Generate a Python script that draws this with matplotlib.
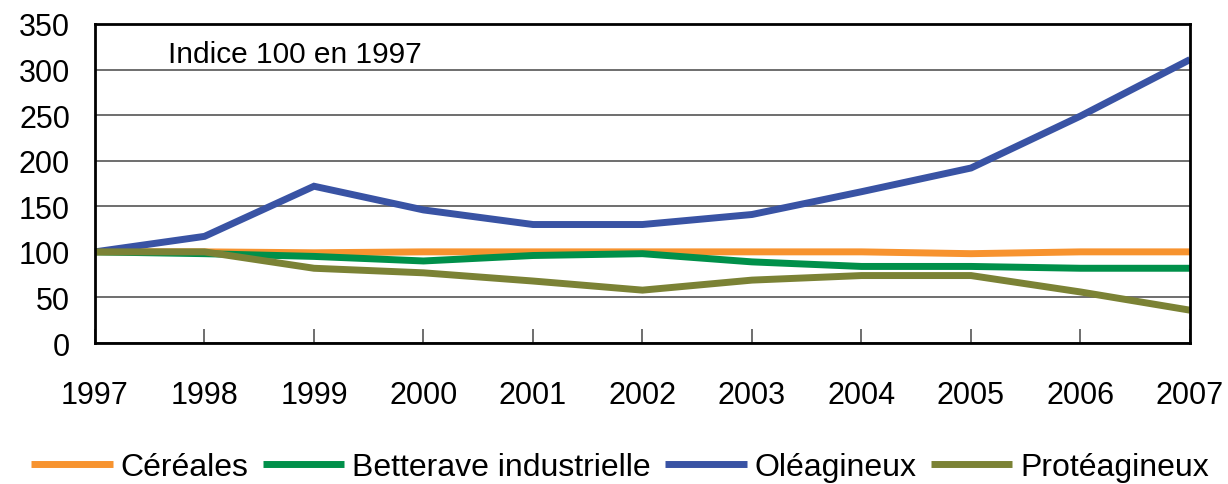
import matplotlib
matplotlib.use("Agg")
import matplotlib.pyplot as plt
from matplotlib import font_manager

years = [1997, 1998, 1999, 2000, 2001, 2002, 2003, 2004, 2005, 2006, 2007]
cereales = [100, 100, 99, 100, 100, 100, 100, 100, 98, 100, 100]
betterave = [100, 98, 95, 90, 96, 98, 89, 84, 84, 82, 82]
oleagineux = [100, 117, 172, 146, 130, 130, 141, 166, 192, 249, 311]
proteagineux = [100, 100, 82, 77, 68, 58, 69, 74, 74, 56, 36]

series_names = ["Céréales", "Betterave industrielle", "Oléagineux", "Protéagineux"]
series_colors = ["#F7932F", "#00904A", "#3953A4", "#7B8235"]
yticks = [0, 50, 100, 150, 200, 250, 300, 350]
annotation = "Indice 100 en 1997"

avail = {f.name for f in font_manager.fontManager.ttflist}
main_font = "Liberation Sans" if "Liberation Sans" in avail else "DejaVu Sans"
plt.rcParams['font.family'] = [main_font, 'DejaVu Sans']

fig = plt.figure(figsize=(12.28, 4.85), dpi=100)
ax = fig.add_axes([95/1228, 1-344/485, (1190-95)/1228, (344-25)/485])

for vals, name, col in zip([cereales, betterave, oleagineux, proteagineux], series_names, series_colors):
    ax.plot(years, vals, color=col, lw=5, label=name, solid_joinstyle='miter',
            solid_capstyle='butt', clip_on=False)

ax.set_xlim(years[0], years[-1])
ax.set_ylim(0, 350)
ax.set_yticks(yticks)
ax.set_xticks(years)
ax.set_xticklabels([str(y) for y in years])
ax.yaxis.grid(True, color="#555555", lw=1.2)
ax.set_axisbelow(True)
for s in ax.spines.values():
    s.set_color("black")
    s.set_linewidth(2)
ax.tick_params(axis='y', length=0, pad=18, labelsize=22)
ax.tick_params(axis='x', direction='in', length=10, width=1.2, color="#555555", pad=27, labelsize=22)

ax.text((168-95)/(1190-95), 1-(55-25)/(344-25), annotation, transform=ax.transAxes,
        fontsize=21.5, va='center', ha='left')

handles, labels = ax.get_legend_handles_labels()
leg = fig.legend(handles, labels, loc='center', bbox_to_anchor=(0.505, 1-468/485), ncol=4,
                 frameon=False, handlelength=2.55, handletextpad=0.25, columnspacing=0.45,
                 prop={'size': 23})
for l in leg.get_lines():
    l.set_linewidth(5)

fig.savefig("out.png", dpi=100)
